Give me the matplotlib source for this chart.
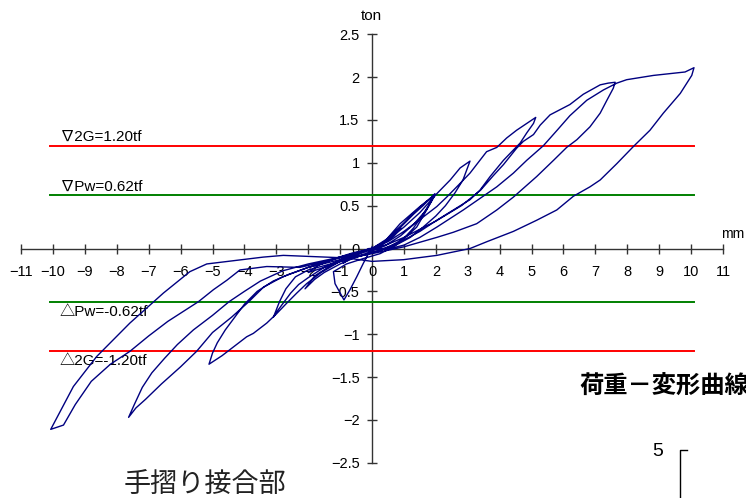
import matplotlib
matplotlib.use("Agg")
import matplotlib.pyplot as plt
from matplotlib.lines import Line2D

# ---------------- data (displacement mm, load ton) ----------------
c1_x = [0.0, 0.3, 0.6, 0.9, 0.7, 0.4, 0.1, -0.3, -0.6, -0.9, -0.7, -0.4, -0.1, 0.0]
c1_y = [0.0, 0.05, 0.13, 0.24, 0.15, 0.07, 0.0, -0.05, -0.10, -0.17, -0.11, -0.05, 0.0, 0.0]

c2a_x = [0.0, 0.4, 0.9, 1.3, 1.6, 1.97, 1.85, 1.6, 1.3, 1.0, 0.6, 0.2, -0.3, -0.9, -1.5, -2.0, -1.7, -1.2, -0.6, 0.0]
c2a_y = [0.0, 0.08, 0.25, 0.40, 0.50, 0.64, 0.55, 0.40, 0.24, 0.12, 0.03, -0.03, -0.08, -0.14, -0.22, -0.28, -0.20, -0.12, -0.05, 0.0]

c2b_x = [0.0, 0.5, 1.0, 1.4, 1.7, 1.97, 1.7, 1.3, 0.9, 0.4, 0.0, -0.5, -1.0, -1.5, -1.8, -2.1, -1.8, -1.3, -0.7, -0.2, 0.0]
c2b_y = [0.0, 0.12, 0.30, 0.45, 0.55, 0.63, 0.45, 0.28, 0.15, 0.03, -0.03, -0.10, -0.18, -0.28, -0.36, -0.47, -0.32, -0.20, -0.10, -0.02, 0.0]

c2c_x = [0.0, 0.25, 0.88, 1.5, 1.97, 1.71, 1.4, 1.08, 0.67, 0.25, -0.3, -0.8, -1.21, -1.16, -1.0, -0.88, -0.69, -0.48, -0.27, 0.0]
c2c_y = [0.0, 0.02, 0.29, 0.49, 0.62, 0.45, 0.25, 0.14, 0.02, -0.06, -0.12, -0.18, -0.27, -0.41, -0.52, -0.60, -0.48, -0.33, -0.17, 0.02]

c3_x = [0.0, 0.5, 1.0, 1.5, 2.03, 2.45, 2.76, 3.07, 3.0, 2.85, 2.6, 2.3, 2.0, 1.6, 1.2, 0.7, 0.2,
        -0.5, -1.2, -2.0, -2.4, -2.7, -2.9, -3.09, -2.95, -2.75, -2.55, -2.3, -2.0, -1.5, -0.8, 0.0]
c3_y = [0.0, 0.1, 0.25, 0.42, 0.64, 0.80, 0.94, 1.02, 0.95, 0.80, 0.65, 0.50, 0.38, 0.25, 0.13, 0.03, -0.03,
        -0.1, -0.17, -0.25, -0.33, -0.47, -0.62, -0.80, -0.72, -0.62, -0.52, -0.42, -0.34, -0.22, -0.1, 0.0]

c5_x = [0.0, 0.5, 1.0, 1.61, 2.03, 2.34, 2.76, 3.07, 3.38, 3.59, 3.91, 4.22, 4.53, 4.85, 5.13,
        5.06, 4.85, 4.64, 4.43, 4.12, 3.7, 3.38, 3.07, 2.55, 2.03, 1.5, 1.0, 0.5, 0.0,
        -1.0, -1.6, -2.05, -2.36, -2.68, -2.99, -3.30, -3.72, -3.93, -4.35, -4.7, -5.11,
        -5.0, -4.85, -4.6, -4.3, -4.0, -3.6, -3.1, -2.6, -2.0, -1.0, 0.0]
c5_y = [0.0, 0.08, 0.2, 0.37, 0.49, 0.6, 0.76, 0.88, 1.03, 1.13, 1.18, 1.29, 1.38, 1.46, 1.53,
        1.46, 1.35, 1.23, 1.15, 1.03, 0.84, 0.68, 0.57, 0.45, 0.33, 0.2, 0.1, 0.02, -0.05,
        -0.15, -0.28, -0.41, -0.52, -0.64, -0.76, -0.87, -0.99, -1.03, -1.15, -1.25, -1.35,
        -1.22, -1.1, -0.95, -0.8, -0.65, -0.5, -0.38, -0.3, -0.22, -0.1, 0.0]

c75_x = [0.0, 0.5, 1.0, 2.0, 2.8, 3.4, 3.8, 4.12, 4.53, 4.74, 5.06, 5.27, 5.58, 6.2, 6.62, 7.15, 7.4, 7.62,
         7.56, 7.36, 7.15, 6.83, 6.42, 6.1, 5.69, 5.16, 4.43, 3.91, 3.28, 2.55, 2.03, 1.0, 0.0,
         -1.0, -2.0, -2.8, -3.4, -3.86, -4.4, -5.0, -5.5, -6.0, -6.6, -7.1, -7.4, -7.63,
         -7.45, -7.2, -6.9, -6.5, -6.1, -5.6, -5.0, -4.48, -4.0, -3.5, -2.8, -2.0, -1.0, 0.0]
c75_y = [0.0, 0.05, 0.13, 0.32, 0.5, 0.68, 0.85, 0.98, 1.17, 1.25, 1.33, 1.44, 1.56, 1.68, 1.80, 1.91, 1.93, 1.94,
         1.87, 1.73, 1.58, 1.42, 1.27, 1.18, 1.03, 0.84, 0.6, 0.45, 0.29, 0.19, 0.13, 0.02, -0.06,
         -0.13, -0.22, -0.33, -0.45, -0.62, -0.8, -0.98, -1.2, -1.38, -1.58, -1.76, -1.86, -1.97,
         -1.82, -1.62, -1.45, -1.28, -1.12, -0.95, -0.78, -0.62, -0.5, -0.38, -0.26, -0.18, -0.1, 0.0]

c10_x = [0.0, 0.46, 1.0, 1.5, 2.03, 2.86, 3.44, 3.91, 4.43, 4.85, 5.37, 5.8, 6.2, 6.73, 7.25, 7.67, 7.98, 8.82, 9.81, 10.09,
         10.02, 9.66, 9.13, 8.71, 8.19, 7.67, 7.15, 6.83, 6.31, 5.79, 5.16, 4.43, 3.6, 3.07, 2.03, 0.99, 0.0,
         -0.79, -2.78, -3.41, -4.3, -5.18, -5.71, -6.54, -7.59, -8.63, -9.36, -10.07,
         -9.67, -9.3, -8.8, -8.2, -7.59, -7.0, -6.4, -5.9, -5.44, -4.97, -4.55, -4.14, -3.30, -2.26, -1.22, 0.0]
c10_y = [0.0, -0.01, 0.04, 0.13, 0.25, 0.45, 0.6, 0.72, 0.88, 1.03, 1.2, 1.38, 1.55, 1.73, 1.85, 1.93, 1.97, 2.02, 2.06, 2.11,
         2.02, 1.81, 1.58, 1.38, 1.19, 0.99, 0.8, 0.72, 0.61, 0.45, 0.33, 0.2, 0.08, 0.0, -0.08, -0.13, -0.15,
         -0.11, -0.08, -0.10, -0.14, -0.18, -0.27, -0.52, -0.87, -1.26, -1.61, -2.11,
         -2.06, -1.82, -1.55, -1.35, -1.2, -1.02, -0.85, -0.73, -0.62, -0.48, -0.37, -0.25, -0.21, -0.22, -0.13, 0.0]

cycles_x = [c1_x, c2a_x, c2b_x, c2c_x, c3_x, c5_x, c75_x, c10_x]
cycles_y = [c1_y, c2a_y, c2b_y, c2c_y, c3_y, c5_y, c75_y, c10_y]

ref_levels = [1.20, 0.62, -0.62, -1.20]
ref_colors = ["#ff0000", "#008000", "#008000", "#ff0000"]
ref_labels = ["∇2G=1.20tf", "∇Pw=0.62tf", "△Pw=-0.62tf", "△2G=-1.20tf"]
ref_span = (-10.1, 10.1)

x_ticks = list(range(-11, 12))
y_ticks = [-2.5, -2, -1.5, -1, -0.5, 0, 0.5, 1, 1.5, 2, 2.5]
y_ticklabels = ["\u22122.5", "\u22122", "\u22121.5", "\u22121", "\u22120.5", "0", "0.5", "1", "1.5", "2", "2.5"]

# ---------------- figure ----------------
W, H = 746, 498
fig = plt.figure(figsize=(W / 100, H / 100), dpi=100)
ax = fig.add_axes([0, 0, 1, 1])
ax.set_xlim(-11.66, 11.72)
ax.set_ylim(-2.911, 2.900)
ax.patch.set_alpha(0)

FONT = ["Liberation Sans", "Noto Sans CJK JP", "DejaVu Sans"]

# reference lines
for lvl, col in zip(ref_levels, ref_colors):
    ax.plot(ref_span, [lvl, lvl], color=col, lw=1.4, zorder=2)

# labels of reference lines
for lvl, lab in zip(ref_levels, ref_labels):
    if lvl > 0:
        ax.text(-9.78, lvl + 0.02, lab, ha="left", va="bottom", fontsize=11, family=FONT, color="black")
    else:
        ax.text(-9.78, lvl - 0.035, lab, ha="left", va="top", fontsize=11, family=FONT, color="black")

# hysteresis curve
path_x, path_y = [], []
for cx, cy in zip(cycles_x, cycles_y):
    path_x += cx
    path_y += cy
ax.plot(path_x, path_y, color="#000080", lw=1.0, zorder=3)

# axes through origin
for s in ["top", "right"]:
    ax.spines[s].set_visible(False)
ax.spines["left"].set_position(("data", 0))
ax.spines["bottom"].set_position(("data", 0))
ax.spines["left"].set_bounds(-2.5, 2.5)
ax.spines["bottom"].set_bounds(-11, 11)
for s in ["left", "bottom"]:
    ax.spines[s].set_color("#333333")
    ax.spines[s].set_linewidth(1.0)
    ax.spines[s].set_zorder(1)

ax.set_xticks(x_ticks)
ax.set_xticklabels([("\u2212%d" % -v) if v < 0 else str(v) for v in x_ticks])
ax.set_yticks(y_ticks)
ax.set_yticklabels(y_ticklabels)
ax.tick_params(axis="x", direction="inout", length=7, width=1.0, color="#333333", pad=8)
ax.tick_params(axis="y", direction="inout", length=7, width=1.0, color="#333333", pad=5.5)
for lab in ax.get_xticklabels() + ax.get_yticklabels():
    lab.set_family(FONT)
    lab.set_fontsize(10.5)

def px(x, y):
    return x / W, 1 - y / H

fig.text(*px(371, 15.5), "ton", ha="center", va="center", fontsize=11, family=FONT)
fig.text(*px(744, 234), "mm", ha="right", va="center", fontsize=10, family=FONT)
fig.text(*px(579, 387), "荷重－変形曲線", ha="left", va="center", fontsize=17.5,
         fontweight="bold", family=["Noto Sans CJK JP", "DejaVu Sans"])
fig.text(*px(658, 451), "5", ha="center", va="center", fontsize=14, family=FONT)
fig.text(*px(124, 484), "手摺り接合部", ha="left", va="center", fontsize=19.5,
         family=["Noto Sans CJK JP", "DejaVu Sans"], color="#222222")
fig.add_artist(Line2D([679.5 / W, 679.5 / W, 686.5 / W], [0, 1 - 449.5 / H, 1 - 449.5 / H],
                      color="black", lw=1.0, transform=fig.transFigure))

fig.savefig("out.png", dpi=100)
